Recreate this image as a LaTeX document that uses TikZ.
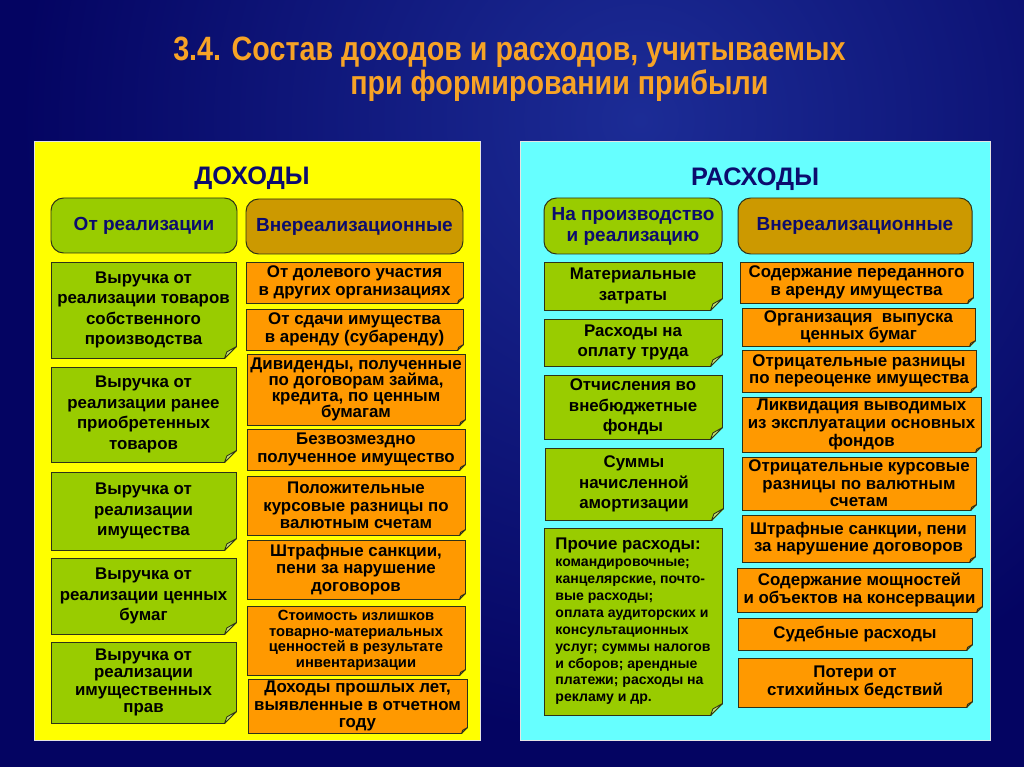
\documentclass[tikz,border=0pt]{standalone}
\usepackage{fontspec}
\setmainfont{Liberation Sans}
\newfontfamily\narrowfont[FakeStretch=0.85]{Liberation Sans}
\usetikzlibrary{calc}

\definecolor{bgdark}{RGB}{4,4,98}
\definecolor{bglight}{RGB}{28,44,150}
\definecolor{titleor}{RGB}{247,163,38}
\definecolor{panelyel}{RGB}{255,255,0}
\definecolor{panelcyan}{RGB}{102,255,255}
\definecolor{leafgreen}{RGB}{153,204,0}
\definecolor{goldhead}{RGB}{204,153,0}
\definecolor{orangebox}{RGB}{255,153,0}
\definecolor{navytext}{RGB}{12,12,110}
\definecolor{boxline}{RGB}{45,50,25}

% folded corner: node, size, panel colour, flap colour
\newcommand{\dogear}[4]{%
  \fill[#3] ($(#1.south east)+(-#2,1)$) -- ($(#1.south east)+(1,1)$) -- ($(#1.south east)+(1,-#2)$) -- cycle;
  \filldraw[fill=#4,draw=boxline,line width=0.6pt,line join=round]
    ($(#1.south east)+(-#2,0)$) -- ($(#1.south east)+(0,-#2)$) -- ($(#1.south east)+(-0.8*#2,-0.55*#2)$) -- cycle;
}

\begin{document}
\begin{tikzpicture}[x=0.025cm,y=-0.025cm,
  area/.style args={#1,#2,#3,#4}{at={({(#1+#3)/2},{(#2+#4)/2})},anchor=center,
    minimum width={(#3-#1)*0.025cm},minimum height={(#4-#2)*0.025cm}},
  panel/.style={draw=white!80!gray,line width=0.6pt,inner sep=0pt},
  title/.style={text=titleor,font=\narrowfont\bfseries\fontsize{24}{25}\selectfont,inner sep=0pt},
  panelhead/.style={text=navytext,font=\bfseries\fontsize{18}{20}\selectfont,inner sep=0pt},
  headbox/.style={draw=boxline,line width=0.7pt,rounded corners=9pt,inner sep=0pt,align=center,
    text=navytext,font=\bfseries\fontsize{13.5}{15}\selectfont},
  gbox/.style={draw=boxline,line width=0.7pt,fill=leafgreen,inner sep=0pt,align=center,
    font=\bfseries\fontsize{12}{14.6}\selectfont},
  obox/.style={draw=boxline,line width=0.7pt,fill=orangebox,inner sep=0pt,align=center,
    font=\bfseries\fontsize{12}{12.5}\selectfont}]

  % background
  \useasboundingbox (0,0) rectangle (1024,767);
  \fill[bgdark] (0,0) rectangle (1024,767);
  \begin{scope}
    \clip (0,0) rectangle (1024,767);
    \shade[inner color=bglight,outer color=bgdark] (640,120) circle (620);
  \end{scope}

  % title
  \node[title,anchor=west] (title1) at (173,52) {3.4. Состав доходов и расходов, учитываемых};
  \node[title,anchor=west] (title2) at (350,86) {при формировании прибыли};

  % panels
  \node[panel,fill=panelyel,area={34,141,480,740}] (incpanel) {};
  \node[panel,fill=panelcyan,area={520,141,990,740}] (exppanel) {};
  \node[panelhead] (inchead) at (252,178) {ДОХОДЫ};
  \node[panelhead] (exphead) at (755,179) {РАСХОДЫ};

  % column heads
  \node[headbox,fill=leafgreen,area={51,198,237,253}] (hsale) {От реализации};
  \node[headbox,fill=goldhead,area={246,199,463,254}] (hother) {Внереализационные};
  \node[headbox,fill=leafgreen,area={544,198,722,254}] (hprod) {На производство\\ и реализацию};
  \node[headbox,fill=goldhead,area={738,198,972,254}] (hnonop) {Внереализационные};

  % incomes from sales
  \node[gbox,area={51,262,236,358}] (inc1) {Выручка от\\ реализации товаров\\ собственного\\ производства};
  \node[gbox,area={51,367,236,462}] (inc2) {Выручка от\\ реализации ранее\\ приобретенных\\ товаров};
  \node[gbox,area={51,472,236,550}] (inc3) {Выручка от\\ реализации\\ имущества};
  \node[gbox,area={51,558,236,634}] (inc4) {Выручка от\\ реализации ценных\\ бумаг};
  \node[gbox,area={51,642,236,723},font=\bfseries\fontsize{12}{12.2}\selectfont] (inc5) {Выручка от\\ реализации\\ имущественных\\ прав};

  % other incomes
  \node[obox,area={246,262,463,303}] (oth1) {От долевого участия\\ в других организациях};
  \node[obox,area={246,309,463,350}] (oth2) {От сдачи имущества\\ в аренду (субаренду)};
  \node[obox,area={247,354,465,425},font=\bfseries\fontsize{12}{11.5}\selectfont] (oth3) {Дивиденды, полученные\\ по договорам займа,\\ кредита, по ценным\\ бумагам};
  \node[obox,area={247,429,465,470}] (oth4) {Безвозмездно\\ полученное имущество};
  \node[obox,area={247,476,465,535}] (oth5) {Положительные\\ курсовые разницы по\\ валютным счетам};
  \node[obox,area={247,540,465,599}] (oth6) {Штрафные санкции,\\ пени за нарушение\\ договоров};
  \node[obox,area={247,606,465,675},font=\bfseries\fontsize{10.5}{11}\selectfont] (oth7) {Стоимость излишков\\ товарно-материальных\\ ценностей в результате\\ инвентаризации};
  \node[obox,area={248,679,467,733}] (oth8) {Доходы прошлых лет,\\ выявленные в отчетном\\ году};

  % costs of production and sales
  \node[gbox,area={544,262,722,310}] (cost1) {Материальные\\ затраты};
  \node[gbox,area={544,319,722,366}] (cost2) {Расходы на\\ оплату труда};
  \node[gbox,area={544,375,722,439}] (cost3) {Отчисления во\\ внебюджетные\\ фонды};
  \node[gbox,area={545,448,723,520}] (cost4) {Суммы\\ начисленной\\ амортизации};
  \node[gbox,area={544,528,722,715},align=left,font=\bfseries\fontsize{10}{12}\selectfont] (cost5)
    {{\fontsize{12}{13}\selectfont Прочие расходы:}\\ командировочные;\\ канцелярские, почто-\\ вые расходы;\\ оплата аудиторских и\\ консультационных\\ услуг; суммы налогов\\ и сборов; арендные\\ платежи; расходы на\\ рекламу и др.};

  % other expenses
  \node[obox,area={740,262,973,303}] (nonop1) {Содержание переданного\\ в аренду имущества};
  \node[obox,area={742,308,975,346}] (nonop2) {Организация~ выпуска\\ ценных бумаг};
  \node[obox,area={742,350,976,392}] (nonop3) {Отрицательные разницы\\ по переоценке имущества};
  \node[obox,area={742,397,981,452}] (nonop4) {Ликвидация выводимых\\ из эксплуатации основных\\ фондов};
  \node[obox,area={742,457,976,510}] (nonop5) {Отрицательные курсовые\\ разницы по валютным\\ счетам};
  \node[obox,area={742,515,975,562}] (nonop6) {Штрафные санкции, пени\\ за нарушение договоров};
  \node[obox,area={737,568,982,612}] (nonop7) {Содержание мощностей\\ и объектов на консервации};
  \node[obox,area={738,618,972,650}] (nonop8) {Судебные расходы};
  \node[obox,area={738,658,972,707}] (nonop9) {Потери от\\ стихийных бедствий};

  % folded corners
  \foreach \n in {inc1,inc2,inc3,inc4,inc5}
    \dogear{\n}{12}{panelyel}{leafgreen!55!white};
  \foreach \n in {oth1,oth2,oth3,oth4,oth5,oth6,oth7,oth8}
    \dogear{\n}{6}{panelyel}{orangebox!55!white};
  \foreach \n in {cost1,cost2,cost3,cost4,cost5}
    \dogear{\n}{12}{panelcyan}{leafgreen!55!white};
  \foreach \n in {nonop1,nonop2,nonop3,nonop4,nonop5,nonop6,nonop7,nonop8,nonop9}
    \dogear{\n}{6}{panelcyan}{orangebox!55!white};
\end{tikzpicture}
\end{document}
